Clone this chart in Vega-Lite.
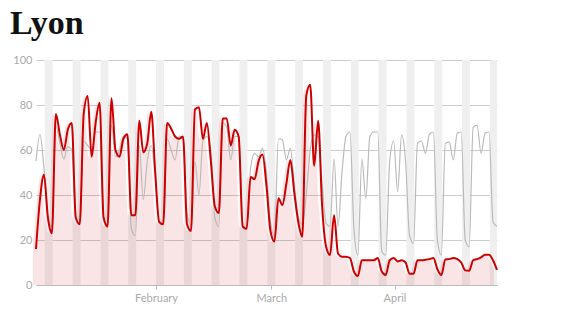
{
  "$schema": "https://vega.github.io/schema/vega-lite/v6.json",
  "width": 461,
  "height": 225,
  "autosize": {"type": "none"},
  "padding": {"left": 36, "top": 60, "right": 83, "bottom": 30},
  "background": "white",
  "title": {"text": "Lyon", "anchor": "start", "frame": "group", "dx": -26, "offset": 13, "baseline": "top", "font": "Liberation Serif", "fontSize": 34, "fontWeight": "bold", "color": "#111111"},
  "config": {"view": {"stroke": null}, "font": "Lato"},
  "datasets": {
    "weekends": [
      {"start": "2020-01-04", "end": "2020-01-06"},
      {"start": "2020-01-11", "end": "2020-01-13"},
      {"start": "2020-01-18", "end": "2020-01-20"},
      {"start": "2020-01-25", "end": "2020-01-27"},
      {"start": "2020-02-01", "end": "2020-02-03"},
      {"start": "2020-02-08", "end": "2020-02-10"},
      {"start": "2020-02-15", "end": "2020-02-17"},
      {"start": "2020-02-22", "end": "2020-02-24"},
      {"start": "2020-02-29", "end": "2020-03-02"},
      {"start": "2020-03-07", "end": "2020-03-09"},
      {"start": "2020-03-14", "end": "2020-03-16"},
      {"start": "2020-03-21", "end": "2020-03-23"},
      {"start": "2020-03-28", "end": "2020-03-30"},
      {"start": "2020-04-04", "end": "2020-04-06"},
      {"start": "2020-04-11", "end": "2020-04-13"},
      {"start": "2020-04-18", "end": "2020-04-20"},
      {"start": "2020-04-25", "end": "2020-04-27"}
    ],
    "traffic": [
      {"date": "2020-01-01", "y2020": 16, "y2019": 55},
      {"date": "2020-01-02", "y2020": 38, "y2019": 67},
      {"date": "2020-01-03", "y2020": 49, "y2019": 52},
      {"date": "2020-01-04", "y2020": 30, "y2019": 30},
      {"date": "2020-01-05", "y2020": 23, "y2019": 26},
      {"date": "2020-01-06", "y2020": 76, "y2019": 71},
      {"date": "2020-01-07", "y2020": 67, "y2019": 63},
      {"date": "2020-01-08", "y2020": 60, "y2019": 56},
      {"date": "2020-01-09", "y2020": 69, "y2019": 61.5},
      {"date": "2020-01-10", "y2020": 72, "y2019": 60},
      {"date": "2020-01-11", "y2020": 30, "y2019": 30},
      {"date": "2020-01-12", "y2020": 27, "y2019": 27},
      {"date": "2020-01-13", "y2020": 76, "y2019": 64},
      {"date": "2020-01-14", "y2020": 84, "y2019": 62},
      {"date": "2020-01-15", "y2020": 57, "y2019": 60},
      {"date": "2020-01-16", "y2020": 72, "y2019": 68},
      {"date": "2020-01-17", "y2020": 81, "y2019": 68},
      {"date": "2020-01-18", "y2020": 30, "y2019": 30},
      {"date": "2020-01-19", "y2020": 26, "y2019": 26.7},
      {"date": "2020-01-20", "y2020": 83, "y2019": 71},
      {"date": "2020-01-21", "y2020": 60, "y2019": 57},
      {"date": "2020-01-22", "y2020": 57, "y2019": 60},
      {"date": "2020-01-23", "y2020": 65, "y2019": 66},
      {"date": "2020-01-24", "y2020": 67, "y2019": 65},
      {"date": "2020-01-25", "y2020": 31, "y2019": 25},
      {"date": "2020-01-26", "y2020": 31, "y2019": 22},
      {"date": "2020-01-27", "y2020": 73, "y2019": 62},
      {"date": "2020-01-28", "y2020": 59, "y2019": 38},
      {"date": "2020-01-29", "y2020": 63, "y2019": 55},
      {"date": "2020-01-30", "y2020": 77, "y2019": 62},
      {"date": "2020-01-31", "y2020": 50, "y2019": 48},
      {"date": "2020-02-01", "y2020": 28, "y2019": 28},
      {"date": "2020-02-02", "y2020": 27, "y2019": 27},
      {"date": "2020-02-03", "y2020": 72, "y2019": 65},
      {"date": "2020-02-04", "y2020": 69.5, "y2019": 60},
      {"date": "2020-02-05", "y2020": 66, "y2019": 55.6},
      {"date": "2020-02-06", "y2020": 65, "y2019": 66},
      {"date": "2020-02-07", "y2020": 66, "y2019": 65},
      {"date": "2020-02-08", "y2020": 27, "y2019": 32},
      {"date": "2020-02-09", "y2020": 24, "y2019": 26.7},
      {"date": "2020-02-10", "y2020": 78, "y2019": 55},
      {"date": "2020-02-11", "y2020": 79, "y2019": 40},
      {"date": "2020-02-12", "y2020": 65, "y2019": 64},
      {"date": "2020-02-13", "y2020": 72, "y2019": 66},
      {"date": "2020-02-14", "y2020": 55, "y2019": 60},
      {"date": "2020-02-15", "y2020": 35, "y2019": 30},
      {"date": "2020-02-16", "y2020": 32, "y2019": 26},
      {"date": "2020-02-17", "y2020": 74, "y2019": 72},
      {"date": "2020-02-18", "y2020": 74, "y2019": 70},
      {"date": "2020-02-19", "y2020": 62, "y2019": 55.6},
      {"date": "2020-02-20", "y2020": 69, "y2019": 66},
      {"date": "2020-02-21", "y2020": 66, "y2019": 66},
      {"date": "2020-02-22", "y2020": 26, "y2019": 28},
      {"date": "2020-02-23", "y2020": 25, "y2019": 25},
      {"date": "2020-02-24", "y2020": 48, "y2019": 52},
      {"date": "2020-02-25", "y2020": 47, "y2019": 58.5},
      {"date": "2020-02-26", "y2020": 55, "y2019": 57},
      {"date": "2020-02-27", "y2020": 58, "y2019": 60.7},
      {"date": "2020-02-28", "y2020": 44, "y2019": 50},
      {"date": "2020-02-29", "y2020": 24, "y2019": 28},
      {"date": "2020-03-01", "y2020": 19.3, "y2019": 22},
      {"date": "2020-03-02", "y2020": 38.5, "y2019": 65},
      {"date": "2020-03-03", "y2020": 35.5, "y2019": 64.5},
      {"date": "2020-03-04", "y2020": 45, "y2019": 55.6},
      {"date": "2020-03-05", "y2020": 55.6, "y2019": 60.7},
      {"date": "2020-03-06", "y2020": 41, "y2019": 45},
      {"date": "2020-03-07", "y2020": 28, "y2019": 30},
      {"date": "2020-03-08", "y2020": 21.5, "y2019": 27},
      {"date": "2020-03-09", "y2020": 84, "y2019": 40},
      {"date": "2020-03-10", "y2020": 89, "y2019": 60},
      {"date": "2020-03-11", "y2020": 53, "y2019": 66.7},
      {"date": "2020-03-12", "y2020": 73, "y2019": 66},
      {"date": "2020-03-13", "y2020": 35, "y2019": 45},
      {"date": "2020-03-14", "y2020": 17, "y2019": 27.4},
      {"date": "2020-03-15", "y2020": 13.3, "y2019": 26},
      {"date": "2020-03-16", "y2020": 31, "y2019": 56},
      {"date": "2020-03-17", "y2020": 14, "y2019": 26},
      {"date": "2020-03-18", "y2020": 12.6, "y2019": 50},
      {"date": "2020-03-19", "y2020": 12.6, "y2019": 66},
      {"date": "2020-03-20", "y2020": 12, "y2019": 68},
      {"date": "2020-03-21", "y2020": 6, "y2019": 25},
      {"date": "2020-03-22", "y2020": 4, "y2019": 13.3},
      {"date": "2020-03-23", "y2020": 11, "y2019": 56},
      {"date": "2020-03-24", "y2020": 11, "y2019": 38.5},
      {"date": "2020-03-25", "y2020": 11, "y2019": 66},
      {"date": "2020-03-26", "y2020": 11, "y2019": 68},
      {"date": "2020-03-27", "y2020": 12, "y2019": 68},
      {"date": "2020-03-28", "y2020": 6, "y2019": 15},
      {"date": "2020-03-29", "y2020": 4.5, "y2019": 13.3},
      {"date": "2020-03-30", "y2020": 11, "y2019": 55},
      {"date": "2020-03-31", "y2020": 12, "y2019": 64},
      {"date": "2020-04-01", "y2020": 10.5, "y2019": 41.5},
      {"date": "2020-04-02", "y2020": 11, "y2019": 66.7},
      {"date": "2020-04-03", "y2020": 10, "y2019": 55},
      {"date": "2020-04-04", "y2020": 5, "y2019": 22},
      {"date": "2020-04-05", "y2020": 5, "y2019": 18.5},
      {"date": "2020-04-06", "y2020": 11, "y2019": 63},
      {"date": "2020-04-07", "y2020": 11, "y2019": 64},
      {"date": "2020-04-08", "y2020": 11.2, "y2019": 58.5},
      {"date": "2020-04-09", "y2020": 11.5, "y2019": 67},
      {"date": "2020-04-10", "y2020": 12, "y2019": 68},
      {"date": "2020-04-11", "y2020": 7, "y2019": 20},
      {"date": "2020-04-12", "y2020": 4.4, "y2019": 13.3},
      {"date": "2020-04-13", "y2020": 11.3, "y2019": 63},
      {"date": "2020-04-14", "y2020": 11.5, "y2019": 63.5},
      {"date": "2020-04-15", "y2020": 12, "y2019": 55.6},
      {"date": "2020-04-16", "y2020": 11.5, "y2019": 67.5},
      {"date": "2020-04-17", "y2020": 10, "y2019": 68},
      {"date": "2020-04-18", "y2020": 6.5, "y2019": 20},
      {"date": "2020-04-19", "y2020": 6.3, "y2019": 17},
      {"date": "2020-04-20", "y2020": 11, "y2019": 70},
      {"date": "2020-04-21", "y2020": 11.5, "y2019": 71},
      {"date": "2020-04-22", "y2020": 12.3, "y2019": 58.5},
      {"date": "2020-04-23", "y2020": 13.4, "y2019": 67.5},
      {"date": "2020-04-24", "y2020": 13.5, "y2019": 68},
      {"date": "2020-04-25", "y2020": 11, "y2019": 28},
      {"date": "2020-04-26", "y2020": 6.7, "y2019": 26}
    ]
  },
  "layer": [
    {
      "data": {"name": "weekends"},
      "mark": {"type": "rect", "color": "#efefef", "clip": true},
      "encoding": {
        "x": {
          "field": "start", "type": "temporal",
          "scale": {"type": "utc", "nice": false, "domain": [
            {"year": 2020, "month": 1, "date": 1, "hours": 19, "utc": true},
            {"year": 2020, "month": 4, "date": 26, "hours": 19, "utc": true}
          ]},
          "axis": {
            "title": null, "format": "%B", "tickCount": {"interval": "month", "step": 1},
            "grid": false, "domain": true, "domainColor": "#bbbbbb", "domainWidth": 1,
            "ticks": true, "tickColor": "#bbbbbb", "tickSize": 4, "labelPadding": 3,
            "labelColor": "#aaaaaa", "labelFont": "Lato", "labelFontSize": 11, "labelFontWeight": "normal"
          }
        },
        "x2": {"field": "end"}
      }
    },
    {
      "data": {"name": "traffic"},
      "mark": {"type": "area", "interpolate": "monotone", "color": "#c70000", "opacity": 0.1},
      "encoding": {
        "x": {"field": "date", "type": "temporal", "timeUnit": "utcyearmonthdate", "bandPosition": 0.79},
        "y": {
          "field": "y2020", "type": "quantitative",
          "scale": {"domain": [0, 100], "nice": false},
          "axis": {
            "title": null, "values": [0, 20, 40, 60, 80, 100], "grid": true, "gridColor": "#cccccc",
            "ticks": false, "domain": false, "labelPadding": 4,
            "labelColor": "#aaaaaa", "labelFont": "Lato", "labelFontSize": 11
          }
        }
      }
    },
    {
      "data": {"name": "traffic"},
      "mark": {"type": "line", "interpolate": "monotone", "color": "#bbbbbb", "strokeWidth": 1.2},
      "encoding": {
        "x": {"field": "date", "type": "temporal", "timeUnit": "utcyearmonthdate", "bandPosition": 0.79},
        "y": {"field": "y2019", "type": "quantitative"}
      }
    },
    {
      "data": {"name": "traffic"},
      "mark": {"type": "line", "interpolate": "monotone", "color": "#cc0000", "strokeWidth": 2},
      "encoding": {
        "x": {"field": "date", "type": "temporal", "timeUnit": "utcyearmonthdate", "bandPosition": 0.79},
        "y": {"field": "y2020", "type": "quantitative"}
      }
    }
  ]
}
